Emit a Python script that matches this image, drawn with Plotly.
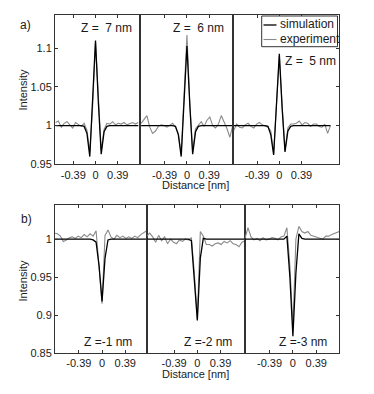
import plotly.graph_objects as go

# ---- data ----
# panel a) Z = 7, 6, 5 nm
x_a7 = [-0.70, -0.65, -0.60, -0.55, -0.50, -0.45, -0.40, -0.35, -0.30, -0.25, -0.20, -0.15, -0.10, -0.05,
        0.00, 0.05, 0.10, 0.15, 0.20, 0.25, 0.30, 0.35, 0.40, 0.45, 0.50, 0.55, 0.60, 0.65, 0.70, 0.75]
sim_a7 = [1, 1, 1, 1, 1, 1, 1, 1, 1, 1.000, 0.999, 0.990, 0.960, 1.030,
          1.110, 1.030, 0.963, 0.992, 0.999, 1, 1, 1, 1, 1, 1, 1, 1, 1, 1, 1]
exp_a7 = [1.004, 1.006, 0.998, 1.003, 1.005, 1.001, 0.997, 1.004, 1.002, 0.999, 1.003, 0.994, 0.966, 1.025,
          1.108, 1.035, 0.968, 0.995, 1.003, 1.002, 1.005, 1.001, 1.003, 1.002, 1.004, 1.001, 1.003, 1.004, 1.002, 1.004]

x_a6 = [-0.80, -0.75, -0.70, -0.65, -0.60, -0.55, -0.50, -0.45, -0.40, -0.35, -0.30, -0.25, -0.20, -0.15, -0.10, -0.05,
        0.00, 0.05, 0.10, 0.15, 0.20, 0.25, 0.30, 0.35, 0.40, 0.45, 0.50, 0.55, 0.60, 0.65, 0.70, 0.75, 0.80]
sim_a6 = [1, 1, 1, 1, 1, 1, 1, 1, 1, 1, 1, 1, 0.999, 0.988, 0.960, 1.025,
          1.103, 1.027, 0.963, 0.992, 0.999, 1, 1, 1, 1, 1, 1, 1, 1, 1, 1, 1, 1]
exp_a6 = [1.003, 1.008, 1.013, 0.998, 0.990, 0.993, 0.999, 1.001, 1.000, 0.998, 1.001, 1.003, 0.998, 0.990, 0.963, 1.035,
          1.117, 1.030, 0.966, 0.996, 1.001, 1.005, 0.999, 1.007, 1.011, 1.000, 0.997, 1.002, 1.013, 1.005, 0.996, 0.985, 1.000]

x_a5 = [-0.80, -0.75, -0.70, -0.65, -0.60, -0.55, -0.50, -0.45, -0.40, -0.35, -0.30, -0.25, -0.20, -0.15, -0.10, -0.05,
        0.00, 0.05, 0.10, 0.15, 0.20, 0.25, 0.30, 0.35, 0.40, 0.45, 0.50, 0.55, 0.60, 0.65, 0.70, 0.75, 0.80, 0.85, 0.90]
sim_a5 = [1, 1, 1, 1, 1, 1, 1, 1, 1, 1, 1, 1, 0.999, 0.988, 0.962, 1.020,
          1.093, 1.022, 0.966, 0.993, 0.999, 1, 1, 1, 1, 1, 1, 1, 1, 1, 1, 1, 1, 1, 1]
exp_a5 = [0.994, 1.002, 0.998, 0.997, 1.001, 1.003, 0.999, 0.997, 1.002, 1.004, 1.001, 0.999, 0.998, 0.993, 0.964, 1.028,
          1.090, 1.025, 0.968, 0.997, 1.002, 1.002, 1.003, 1.006, 1.001, 1.004, 1.003, 0.999, 1.002, 1.002, 0.999, 0.998,
          1.002, 0.990, 1.000]

# panel b) Z = -1, -2, -3 nm
x_b1 = [-0.80, -0.75, -0.70, -0.65, -0.60, -0.55, -0.50, -0.45, -0.40, -0.35, -0.30, -0.25, -0.20, -0.15, -0.10, -0.05,
        0.00, 0.05, 0.10, 0.15, 0.20, 0.25, 0.30, 0.35, 0.40, 0.45, 0.50, 0.55, 0.60, 0.65, 0.70, 0.75]
sim_b1 = [1, 1, 1, 1, 1, 1, 1, 1, 1, 1, 1, 1, 1, 0.999, 0.996, 0.965,
          0.918, 0.975, 0.999, 1, 1, 1, 1, 1, 1, 1, 1, 1, 1, 1, 1, 1]
exp_b1 = [1.008, 1.007, 1.004, 0.997, 0.999, 1.002, 1.003, 1.001, 1.004, 1.002, 1.006, 1.003, 1.007, 1.004, 1.011, 0.965,
          0.915, 1.005, 1.012, 1.003, 1.000, 1.005, 1.002, 1.004, 1.001, 1.003, 1.001, 1.004, 1.002, 1.006, 1.009, 1.011]

x_b2 = [-0.85, -0.80, -0.75, -0.70, -0.65, -0.60, -0.55, -0.50, -0.45, -0.40, -0.35, -0.30, -0.25, -0.20, -0.15, -0.10, -0.05,
        0.00, 0.05, 0.10, 0.15, 0.20, 0.25, 0.30, 0.35, 0.40, 0.45, 0.50, 0.55, 0.60, 0.65, 0.70, 0.75, 0.80]
sim_b2 = [1, 1, 1, 1, 1, 1, 1, 1, 1, 1, 1, 1, 1, 1, 1, 0.998, 0.950,
          0.893, 0.975, 1.001, 1, 1, 1, 1, 1, 1, 1, 1, 1, 1, 1, 1, 1, 1]
exp_b2 = [1.004, 1.008, 1.003, 0.996, 1.005, 0.998, 1.003, 0.994, 1.000, 0.996, 0.994, 0.999, 0.997, 1.000, 0.999, 1.002, 0.955,
          0.895, 1.010, 1.004, 0.993, 0.993, 0.991, 0.994, 0.995, 0.993, 0.997, 0.995, 0.998, 0.994, 0.993, 0.990, 0.996, 0.998]

x_b3 = [-0.80, -0.75, -0.70, -0.65, -0.60, -0.55, -0.50, -0.45, -0.40, -0.35, -0.30, -0.25, -0.20, -0.15, -0.10, -0.05,
        0.00, 0.05, 0.10, 0.15, 0.20, 0.25, 0.30, 0.35, 0.40, 0.45, 0.50, 0.55, 0.60, 0.65, 0.70, 0.75, 0.80]
sim_b3 = [1, 1, 1, 1, 1, 1, 1, 1, 1, 1, 1, 1, 1, 1, 1.004, 0.950,
          0.872, 0.955, 1.007, 1.001, 1, 1, 1, 1, 1, 1, 1, 1, 1, 1, 1, 1, 1]
exp_b3 = [1.001, 1.015, 1.003, 0.999, 1.001, 0.998, 1.002, 0.999, 1.000, 1.002, 1.001, 0.999, 1.003, 1.004, 1.015, 0.965,
          0.883, 1.000, 1.017, 1.010, 1.008, 1.010, 1.005, 1.004, 1.003, 1.002, 1.000, 1.004, 1.004, 1.006, 1.008, 1.010, 1.011]

x_ticks = [-0.39, 0, 0.39]
x_ticktext = ["-0.39", "0", "0.39"]
y_ticks_a = [0.95, 1.0, 1.05, 1.1]
y_ticktext_a = ["0.95", "1", "1.05", "1.1"]
y_ticks_b = [0.85, 0.9, 0.95, 1.0]
y_ticktext_b = ["0.85", "0.9", "0.95", "1"]

labels_a = ["Z =  7 nm", "Z =  6 nm", "Z =  5 nm"]
labels_b = ["Z =-1 nm", "Z =-2 nm", "Z =-3 nm"]

# ---- layout (pixel geometry of the original figure) ----
W, H = 374, 394
L, R, T, B = 55, 339, 15, 353
FONT = "Arial, Liberation Sans, sans-serif"
TXT = "#1a1a1a"
AX = "#333333"
GREY = "#8a8a8a"


def fx(p):
    return (p - L) / (R - L)


def fy(p):
    return (B - p) / (B - T)


panels = [
    (x_a7, sim_a7, exp_a7, [-0.71, 0.78], (55, 140), (15, 164.3), 0),
    (x_a6, sim_a6, exp_a6, [-0.82, 0.81], (140, 233.3), (15, 164.3), 1),
    (x_a5, sim_a5, exp_a5, [-0.81, 1.05], (233.3, 339), (15, 164.3), 2),
    (x_b1, sim_b1, exp_b1, [-0.79, 0.76], (55, 147.3), (205, 353), 0),
    (x_b2, sim_b2, exp_b2, [-0.84, 0.80], (147.3, 245), (205, 353), 1),
    (x_b3, sim_b3, exp_b3, [-0.80, 0.77], (245, 339), (205, 353), 2),
]

fig = go.Figure()
for i, (x, sim, exp, xr, (x0, x1), (y0, y1), col) in enumerate(panels, start=1):
    sfx = "" if i == 1 else str(i)
    fig.add_trace(go.Scatter(x=x, y=exp, mode="lines", line=dict(color=GREY, width=1.1),
                             xaxis="x" + sfx, yaxis="y" + sfx, showlegend=False))
    fig.add_trace(go.Scatter(x=x, y=sim, mode="lines", line=dict(color="black", width=1.3),
                             xaxis="x" + sfx, yaxis="y" + sfx, showlegend=False))
    top_row = i <= 3
    fig.layout["xaxis" + sfx] = dict(
        domain=[fx(x0), fx(x1)], range=xr, anchor="y" + sfx,
        tickmode="array", tickvals=x_ticks, ticktext=x_ticktext,
        ticks="inside", ticklen=3, tickcolor=AX, mirror="ticks",
        showline=True, linecolor=AX, linewidth=1,
        showgrid=False, zeroline=False,
        tickfont=dict(size=11, color=TXT, family=FONT),
    )
    yaxis = dict(
        domain=[fy(y1), fy(y0)], anchor="x" + sfx,
        range=[0.95, 1.143] if top_row else [0.85, 1.045],
        showline=True, linecolor=AX, linewidth=1, mirror=True,
        showgrid=False, zeroline=False,
        tickmode="array",
        tickvals=y_ticks_a if top_row else y_ticks_b,
        ticktext=y_ticktext_a if top_row else y_ticktext_b,
        tickfont=dict(size=11, color=TXT, family=FONT),
    )
    if col == 0:
        yaxis.update(ticks="inside", ticklen=3, tickcolor=AX)
    elif col == 1:
        yaxis.update(ticks="", showticklabels=False)
    else:
        yaxis.update(side="right", ticks="inside", ticklen=3, tickcolor=AX, showticklabels=False)
    fig.layout["yaxis" + sfx] = yaxis

ann = []


def text(s, xp, yp, size=12, angle=0, xanchor="center"):
    ann.append(dict(text=s, x=fx(xp), y=fy(yp), xref="paper", yref="paper",
                    xanchor=xanchor, yanchor="middle", showarrow=False, textangle=angle,
                    font=dict(size=size, color=TXT, family=FONT)))


text("a)", 18, 25, xanchor="left")
text("b)", 19, 219, xanchor="left")
for s, (xp, yp) in zip(labels_a, [(106.7, 27.7), (198.3, 27.7), (310, 61)]):
    text(s, xp, yp)
for s, (xp, yp) in zip(labels_b, [(108.3, 341.7), (207.5, 341.7), (303, 341.7)]):
    text(s, xp, yp)
text("Distance [nm]", 195, 185, size=11)
text("Distance [nm]", 195, 374, size=11)
text("Intensity", 22.5, 90, size=11, angle=-90)
text("Intensity", 22.5, 281, size=11, angle=-90)
text("simulation", 277.5, 24.5, xanchor="left")
text("experiment", 277.5, 39, xanchor="left")

shapes = [
    dict(type="rect", xref="paper", yref="paper", x0=fx(261.7), x1=fx(337.5), y0=fy(46.7), y1=fy(16),
         line=dict(color=AX, width=1), fillcolor="white"),
    dict(type="line", xref="paper", yref="paper", x0=fx(263.5), x1=fx(276.5), y0=fy(25), y1=fy(25),
         line=dict(color="black", width=1.3)),
    dict(type="line", xref="paper", yref="paper", x0=fx(263.5), x1=fx(276.5), y0=fy(39.5), y1=fy(39.5),
         line=dict(color=GREY, width=1.1)),
]

fig.update_layout(
    width=W, height=H,
    margin=dict(l=L, r=W - R, t=T, b=H - B, pad=0),
    paper_bgcolor="white", plot_bgcolor="white",
    annotations=ann, shapes=shapes,
    font=dict(family=FONT, color=TXT),
)

# the page body has a default 8px margin; drop it so the figure sits at the window origin
fig.write_html("out.html", config={"displayModeBar": False},
               post_script="document.body.style.margin='0';")
